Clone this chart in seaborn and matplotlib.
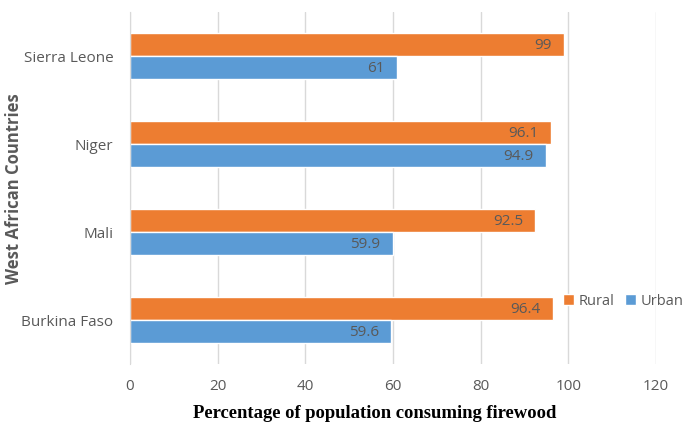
import pandas as pd
import numpy as np
import seaborn as sns
import matplotlib.pyplot as plt

countries = ['Sierra Leone', 'Niger', 'Mali', 'Burkina Faso']
rural = [99, 96.1, 92.5, 96.4]
urban = [61, 94.9, 59.9, 59.6]
x_ticks = [0, 20, 40, 60, 80, 100, 120]

df = pd.DataFrame({
    'country': countries * 2,
    'value': rural + urban,
    'area': ['Rural'] * 4 + ['Urban'] * 4,
})

sns.set_style('white')
plt.rcParams['font.family'] = ['Open Sans', 'DejaVu Sans']
grey = '#595959'

fig = plt.figure(figsize=(6.86, 4.27), dpi=100)
ax = fig.add_axes([0.1895, 0.1452, 0.7668, 0.8244])

sns.barplot(data=df, x='value', y='country', hue='area', order=countries,
            hue_order=['Rural', 'Urban'], palette=['#ED7D31', '#5B9BD5'],
            orient='h', width=0.52, saturation=1, ax=ax)

# value labels just inside the bar ends
for c in ax.containers:
    labs = ax.bar_label(c, fmt='%g', padding=-9, color=grey, fontsize=11)
    for t in labs:
        t.set_ha('right')

ax.set_xlim(0, 120)
ax.set_xticks(x_ticks)
ax.xaxis.grid(True, color='#d9d9d9', linewidth=1)
ax.yaxis.grid(False)
for s in ['top', 'right', 'bottom']:
    ax.spines[s].set_visible(False)
ax.spines['left'].set_color('#d9d9d9')
ax.tick_params(axis='both', length=0, labelsize=11, labelcolor=grey)
ax.tick_params(axis='x', pad=10)
ax.tick_params(axis='y', pad=12)

ax.set_xlabel('Percentage of population consuming firewood',
              fontfamily='Liberation Serif', fontweight='bold', fontsize=13.4,
              color='black')
ax.xaxis.set_label_coords(0.466, -0.115)
ax.set_ylabel('West African Countries', fontweight='bold', fontsize=12,
              color=grey)
ax.yaxis.set_label_coords(-0.203, 0.5)

ax.legend(loc='center left', bbox_to_anchor=(0.824, 0.179), ncol=2,
          frameon=False, handlelength=0.75, handleheight=0.75,
          columnspacing=0.7, handletextpad=0.3, labelcolor=grey, fontsize=10.5,
          borderaxespad=0, borderpad=0)

fig.savefig('out.png', dpi=100)
